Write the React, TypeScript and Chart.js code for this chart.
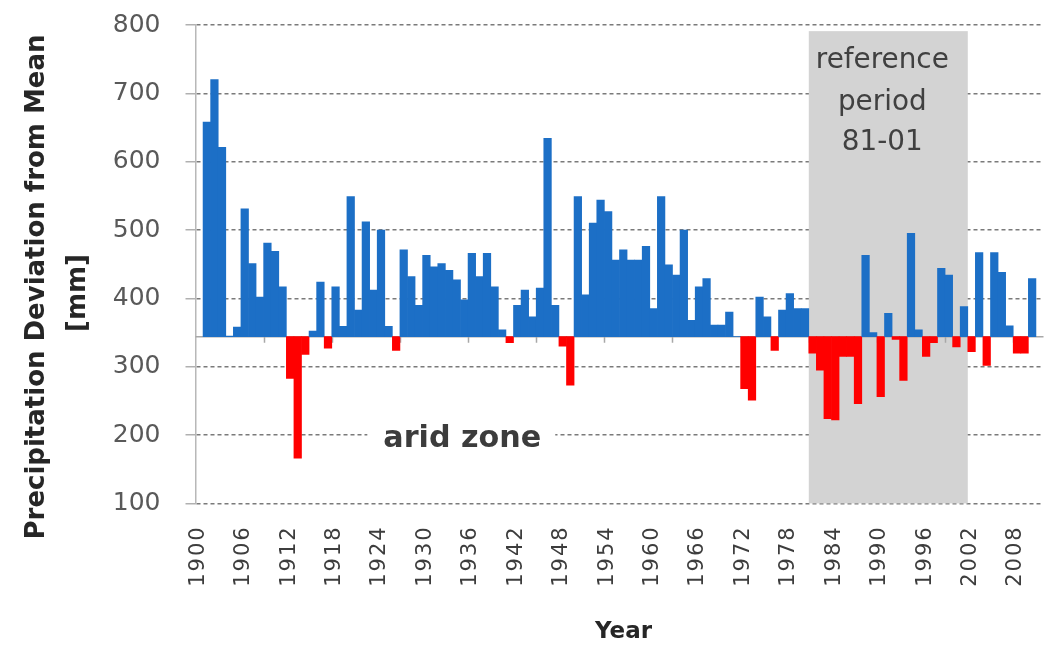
import React, { useEffect, useRef } from 'react';
import { Chart, registerables } from 'chart.js';

Chart.register(...registerables);

// ---------------- data ----------------
const MEAN = 344;
const START_YEAR = 1900;
const YEAR_COUNT = 112; // 1900 .. 2011
const YEARS: string[] = Array.from({ length: YEAR_COUNT }, (_, i) => String(START_YEAR + i));

// annual precipitation [mm], 1900 .. 2011 (null = no bar)
const PRECIP: (number | null)[] = [
  null, 658, 720, 621, 345, 358, 531, 451, 402, 481, // 1900-1909
  469, 417, 283, 166, 318, 352, 424, 327, 417, 359, // 1910-1919
  549, 383, 512, 412, 500, 359, 324, 471, 432, 390, // 1920-1929
  463, 446, 451, 441, 427, 398, 466, 432, 466, 417, // 1930-1939
  354, 335, 390, 412, 373, 415, 634, 390, 330, 273, // 1940-1949
  549, 405, 510, 544, 527, 456, 471, 456, 456, 476, // 1950-1959
  385, 549, 449, 434, 500, 368, 417, 429, 361, 361, // 1960-1969
  380, 344, 268, 251, 402, 373, 324, 383, 407, 385, // 1970-1979
  385, 320, 295, 224, 222, 315, 315, 246, 463, 350, // 1980-1989
  256, 378, 340, 280, 495, 354, 315, 335, 444, 434, // 1990-1999
  329, 388, 322, 467, 302, 467, 438, 360, 320, 320, // 2000-2009
  429, null,                                         // 2010-2011
];

const X_TICK_LABELS = [
  '1900', '1906', '1912', '1918', '1924', '1930', '1936', '1942', '1948', '1954',
  '1960', '1966', '1972', '1978', '1984', '1990', '1996', '2002', '2008',
];
const Y_MIN = 100;
const Y_MAX = 800;
const Y_STEP = 100;

const REF_START = '1981';
const REF_END = '2001';
const REF_LINES = ['reference', 'period', '81-01'];
const ARID_LABEL = 'arid zone';
const Y_TITLE = ['Precipitation Deviation from Mean', '[mm]'];
const X_TITLE = 'Year';

// ---------------- styles ----------------
const BLUE = '#1c6fc6';
const RED = '#ff0000';
const SHADE = '#d3d3d3';
const FONT = "'DejaVu Sans', sans-serif";

function fitSize(ctx: CanvasRenderingContext2D, text: string, weight: string, target: number) {
  ctx.font = `${weight} 100px ${FONT}`;
  const w = ctx.measureText(text).width;
  return (100 * target) / w;
}

const overlay = {
  id: 'overlay',
  beforeDatasetsDraw(chart: any) {
    const { ctx, chartArea, scales } = chart;
    const x = scales.x;
    const y = scales.y;
    const step = x.width / YEARS.length;
    ctx.save();
    // reference period shading
    const gx0 = x.getPixelForValue(YEARS.indexOf(REF_START)) - step / 2;
    const gx1 = x.getPixelForValue(YEARS.indexOf(REF_END)) + step / 2;
    const gy0 = y.getPixelForValue(791);
    ctx.fillStyle = SHADE;
    ctx.fillRect(gx0, gy0, gx1 - gx0, chartArea.bottom - gy0);

    // white box behind "arid zone"
    const aridSize = fitSize(ctx, ARID_LABEL, 'bold', 158);
    ctx.font = `bold ${aridSize}px ${FONT}`;
    const aw = ctx.measureText(ARID_LABEL).width;
    const acx = x.getPixelForValue(YEARS.indexOf('1935')) - 2;
    const y200 = y.getPixelForValue(200);
    ctx.fillStyle = '#ffffff';
    ctx.fillRect(acx - aw / 2 - 16, y200 - 8, aw + 30, 16);

    // mean baseline with tick marks
    const by = y.getPixelForValue(MEAN);
    ctx.strokeStyle = '#a8a8a8';
    ctx.lineWidth = 1.5;
    ctx.beginPath();
    ctx.moveTo(chartArea.left, by);
    ctx.lineTo(chartArea.right, by);
    for (let k = 9; k < YEARS.length; k += 9) {
      const tx = Math.round(x.getPixelForValue(k) - step / 2) + 0.5;
      ctx.moveTo(tx, by);
      ctx.lineTo(tx, by + 6);
    }
    ctx.stroke();
    ctx.restore();
  },
  afterDraw(chart: any) {
    const { ctx, chartArea, scales } = chart;
    const x = scales.x;
    const y = scales.y;
    const step = x.width / YEARS.length;
    ctx.save();

    // arid zone
    const aridSize = fitSize(ctx, ARID_LABEL, 'bold', 158);
    ctx.font = `bold ${aridSize}px ${FONT}`;
    ctx.fillStyle = '#3c3c3c';
    ctx.textAlign = 'center';
    ctx.textBaseline = 'alphabetic';
    const acx = x.getPixelForValue(YEARS.indexOf('1935')) - 2;
    ctx.fillText(ARID_LABEL, acx, y.getPixelForValue(200) + 12);

    // reference period text
    const gx0 = x.getPixelForValue(YEARS.indexOf(REF_START)) - step / 2;
    const gx1 = x.getPixelForValue(YEARS.indexOf(REF_END)) + step / 2;
    const rcx = (gx0 + gx1) / 2 - 6;
    const refSize = fitSize(ctx, REF_LINES[0], 'normal', 133);
    ctx.font = `normal ${refSize}px ${FONT}`;
    ctx.fillStyle = '#404040';
    const baselines = [43, 85, 125];
    REF_LINES.forEach((t, i) => ctx.fillText(t, rcx, chartArea.top + baselines[i]));

    // x tick labels (rotated)
    ctx.font = `normal 21px ${FONT}`;
    (ctx as any).letterSpacing = '2px';
    ctx.fillStyle = '#3d3d3d';
    ctx.textAlign = 'right';
    ctx.textBaseline = 'middle';
    X_TICK_LABELS.forEach((lab) => {
      const px = x.getPixelForValue(YEARS.indexOf(lab)) - 1;
      ctx.save();
      ctx.translate(px, chartArea.bottom + 22);
      ctx.rotate(-Math.PI / 2);
      ctx.fillText(lab, 0, 0);
      ctx.restore();
    });
    (ctx as any).letterSpacing = '0px';

    // x title
    const xtSize = fitSize(ctx, X_TITLE, 'bold', 57);
    ctx.font = `bold ${xtSize}px ${FONT}`;
    ctx.fillStyle = '#262626';
    ctx.textAlign = 'center';
    ctx.textBaseline = 'middle';
    ctx.fillText(X_TITLE, (chartArea.left + chartArea.right) / 2 + 4, 632);

    // y title
    const ytSize = fitSize(ctx, Y_TITLE[0], 'bold', 505);
    ctx.font = `bold ${ytSize}px ${FONT}`;
    const ycy = 287;
    ctx.save();
    ctx.translate(37, ycy);
    ctx.rotate(-Math.PI / 2);
    ctx.fillText(Y_TITLE[0], 0, 0);
    ctx.restore();
    ctx.save();
    ctx.translate(78, ycy + 6);
    ctx.rotate(-Math.PI / 2);
    ctx.fillText(Y_TITLE[1], 0, 0);
    ctx.restore();

    ctx.restore();
  },
};

export default function App() {
  const canvasRef = useRef<HTMLCanvasElement | null>(null);

  useEffect(() => {
    const canvas = canvasRef.current;
    if (!canvas) return;
    const data = PRECIP.map((v) => (v === null ? null : [MEAN, v]));
    const colors = PRECIP.map((v) => (v !== null && v < MEAN ? RED : BLUE));
    const chart = new Chart(canvas, {
      type: 'bar',
      data: {
        labels: YEARS,
        datasets: [
          {
            data: data as any,
            backgroundColor: colors,
            borderWidth: 0,
            barPercentage: 1,
            categoryPercentage: 1,
          },
        ],
      },
      options: {
        animation: false,
        responsive: false,
        devicePixelRatio: 1,
        layout: { padding: { left: 0, right: 15.5, top: 25, bottom: 0 } },
        plugins: { legend: { display: false }, tooltip: { enabled: false } },
        scales: {
          x: {
            type: 'category',
            grid: { display: false },
            border: { display: false },
            ticks: { display: false },
            afterFit: (s: any) => {
              s.height = 146.6;
              s.paddingLeft = 0;
              s.paddingRight = 0;
            },
          },
          y: {
            min: Y_MIN,
            max: Y_MAX,
            ticks: {
              stepSize: Y_STEP,
              padding: 25,
              color: '#595959',
              font: { family: FONT, size: 25 },
            },
            grid: {
              color: '#7a7a7a',
              lineWidth: 1.5,
              tickLength: 10,
              tickColor: '#b0b0b0',
              tickWidth: 1.5,
              tickBorderDash: [],
            },
            border: { display: true, color: '#b8b8b8', width: 1.5, dash: [4, 3] },
            afterFit: (s: any) => {
              s.width = 195.5;
              s.paddingTop = 0;
              s.paddingBottom = 0;
            },
          },
        },
      },
      plugins: [overlay],
    });
    return () => chart.destroy();
  }, []);

  return (
    <div style={{ position: 'absolute', left: 0, top: 0, width: 1059, height: 650, background: '#fff' }}>
      <canvas ref={canvasRef} width={1059} height={650} style={{ display: 'block' }} />
    </div>
  );
}
